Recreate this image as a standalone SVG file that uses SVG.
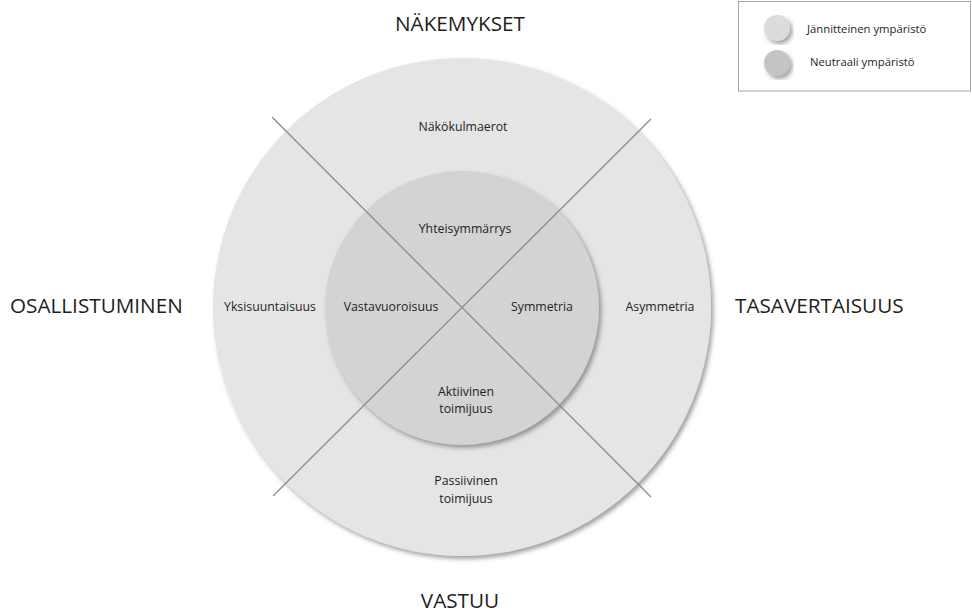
<svg xmlns="http://www.w3.org/2000/svg" width="972" height="615" viewBox="0 0 972 615">
  <defs>
    <filter id="shadow" x="-10%" y="-10%" width="125%" height="125%">
      <feDropShadow dx="2.5" dy="3" stdDeviation="2" flood-color="#555555" flood-opacity="0.55"/>
    </filter>
  </defs>
  <style>
    text { font-family: "Open Sans", "Noto Sans", "Liberation Sans", sans-serif; fill: #1e1e1e; }
    .axis { font-size: 20.7px; }
    .lbl { font-size: 12.3px; text-anchor: middle; }
    .leg { font-size: 11.3px; }
    .ring { fill: #e5e5e5; filter: url(#shadow); }
    .core { fill: #d3d3d3; filter: url(#shadow); }
    .div { stroke: #8a8a8a; stroke-width: 1.3; fill: none; }
  </style>
  <rect width="972" height="615" fill="#ffffff"/>

  <g id="outer-ring">
    <circle class="ring" cx="462" cy="307" r="249"/>
  </g>
  <g id="inner-core">
    <circle class="core" cx="462" cy="308" r="137"/>
  </g>

  <g id="connectors">
    <line class="div" x1="272" y1="117" x2="651" y2="497"/>
    <line class="div" x1="651" y1="119" x2="273" y2="496"/>
  </g>

  <g id="n-nakokulmaerot"><text class="lbl" x="463" y="131">Näkökulmaerot</text></g>
  <g id="n-yhteisymmarrys"><text class="lbl" x="465" y="233">Yhteisymmärrys</text></g>
  <g id="n-vastavuoroisuus"><text class="lbl" x="391" y="311">Vastavuoroisuus</text></g>
  <g id="n-symmetria"><text class="lbl" x="542" y="311">Symmetria</text></g>
  <g id="n-aktiivinen"><text class="lbl" x="466" y="396">Aktiivinen</text><text class="lbl" x="466" y="413">toimijuus</text></g>
  <g id="n-passiivinen"><text class="lbl" x="466" y="485">Passiivinen</text><text class="lbl" x="466" y="503">toimijuus</text></g>
  <g id="n-yksisuuntaisuus"><text class="lbl" x="270" y="311">Yksisuuntaisuus</text></g>
  <g id="n-asymmetria"><text class="lbl" x="660" y="311">Asymmetria</text></g>

  <g id="a-nakemykset"><text class="axis" x="460" y="31" text-anchor="middle">NÄKEMYKSET</text></g>
  <g id="a-osallistuminen"><text class="axis" x="10" y="313">OSALLISTUMINEN</text></g>
  <g id="a-tasavertaisuus"><text class="axis" x="735" y="313">TASAVERTAISUUS</text></g>
  <g id="a-vastuu"><text class="axis" x="460" y="608" text-anchor="middle">VASTUU</text></g>

  <g id="legend">
    <rect x="738.5" y="1.5" width="232" height="89.5" fill="#ffffff" stroke="#a6a6a6" stroke-width="1"/>
    <circle cx="777" cy="28" r="13" fill="#dcdcdc" filter="url(#shadow)"/>
    <circle cx="777" cy="63" r="13" fill="#c4c4c4" filter="url(#shadow)"/>
    <text class="leg" x="807" y="33">Jännitteinen ympäristö</text>
    <text class="leg" x="810" y="66">Neutraali ympäristö</text>
  </g>
</svg>
